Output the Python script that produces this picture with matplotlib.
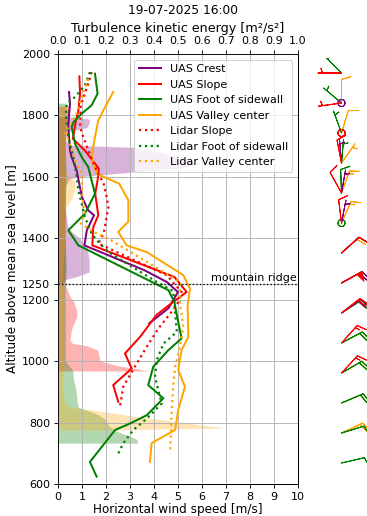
import numpy as np
import matplotlib
matplotlib.use('Agg')
import matplotlib.pyplot as plt

nan = np.nan

# UAS horizontal wind speed profiles [m/s] vs altitude [m]
crest_alt = [1876, 1838, 1806, 1762, 1686, 1664, 1621, 1580, 1534, 1491, 1475, 1426, 1377, 1296, 1258, 1225, 1172, 1123]
crest_spd = [0.46, 0.50, 0.46, 0.43, 0.50, 0.57, 0.78, 0.88, 1.00, 1.26, 1.50, 1.20, 1.10, 3.60, 4.53, 5.00, 4.60, 3.80]

slope_alt = [1927, 1871, 1816, 1784, 1724, 1686, 1627, 1589, 1545, 1475, 1437, 1377, 1274, 1225, 1193, 1150, 1122, 1079, 1025, 976, 922, 868]
slope_spd = [0.89, 0.92, 0.85, 0.75, 0.62, 1.12, 1.70, 1.65, 1.55, 1.68, 1.47, 1.43, 4.85, 5.36, 4.80, 4.10, 3.83, 3.42, 2.79, 3.07, 2.30, 2.51]

foot_alt = [1936, 1871, 1833, 1806, 1778, 1762, 1708, 1664, 1632, 1567, 1545, 1480, 1426, 1377, 1231, 1193, 1150, 1074, 1036, 982, 922, 879, 824, 797, 776, 672, 624]
foot_spd = [1.54, 1.65, 1.40, 0.99, 0.64, 0.57, 0.71, 0.99, 1.26, 1.47, 1.54, 1.12, 0.43, 0.85, 4.60, 4.85, 4.95, 5.15, 4.60, 3.97, 3.76, 4.39, 3.70, 3.00, 2.38, 1.33, 1.61]

valley_alt = [1876, 1827, 1784, 1730, 1664, 1610, 1578, 1524, 1454, 1432, 1421, 1377, 1355, 1280, 1236, 1182, 1079, 1036, 971, 917, 841, 776, 733, 672]
valley_spd = [2.30, 1.96, 1.68, 1.54, 1.40, 1.61, 2.55, 2.93, 2.93, 2.65, 2.51, 2.86, 3.70, 5.22, 5.50, 5.40, 5.43, 5.15, 5.01, 5.29, 5.01, 4.88, 3.90, 3.83]

# Lidar profiles
lslope_alt = [1941, 1903, 1833, 1762, 1730, 1680, 1632, 1578, 1534, 1502, 1415, 1383, 1280, 1225, 1182, 1106, 1047, 982, 917, 852]
lslope_spd = [1.40, 1.26, 0.95, 0.92, 1.05, 1.30, 1.54, 1.90, 2.03, 2.10, 1.90, 1.68, 4.53, 5.15, 4.95, 4.18, 3.70, 3.20, 2.72, 2.58]

lfoot_alt = [1941, 1898, 1860, 1838, 1800, 1730, 1664, 1600, 1556, 1534, 1469, 1415, 1388, 1355, 1258, 1228, 1190, 1140, 1095, 1057, 1003, 949, 862, 813, 776, 733, 689]
lfoot_spd = [1.33, 1.12, 0.71, 0.36, 0.33, 0.43, 0.64, 0.78, 0.85, 0.92, 1.12, 1.40, 1.68, 2.10, 4.11, 4.80, 4.85, 4.90, 4.95, 4.39, 4.11, 4.04, 4.32, 3.70, 3.14, 2.72, 2.45]

lvalley_alt = [1919, 1860, 1800, 1746, 1719, 1654, 1610, 1540, 1480, 1448, 1420, 1399, 1258, 1188, 1112, 1047, 982, 917, 841, 700]
lvalley_spd = [1.26, 0.99, 0.75, 0.30, 0.43, 0.71, 0.99, 1.00, 1.12, 0.95, 1.50, 2.10, 5.08, 5.08, 5.22, 5.08, 4.88, 4.80, 4.74, 4.67]

# UAS turbulence kinetic energy [m2/s2]
crest_tke_alt = [1795, 1788, 1775, 1760, 1748, 1720, 1703, 1696, 1680, 1660, 1642, 1628, 1615, 1603, 1595, 1570, 1500, 1440, 1426, 1400, 1370, 1330, 1290, 1276, 1265, 1250]
crest_tke = [0.05, 0.13, 0.13, 0.12, 0.04, 0.03, 0.05, 0.32, 0.42, 0.52, 0.58, 0.50, 0.30, 0.12, 0.05, 0.03, 0.03, 0.04, 0.05, 0.09, 0.12, 0.13, 0.13, 0.08, 0.03, 0.02]

slope_tke_alt = [1830, 1810, 1790, 1760, 1700, 1600, 1500, 1400, 1300, 1250, 1230, 1210, 1195, 1165, 1145, 1120, 1100, 1068, 1058, 1050, 1036, 1020, 1000, 985, 975, 968]
slope_tke = [0.05, 0.05, 0.04, 0.03, 0.03, 0.03, 0.03, 0.03, 0.03, 0.03, 0.04, 0.05, 0.065, 0.078, 0.078, 0.065, 0.055, 0.05, 0.06, 0.12, 0.165, 0.17, 0.175, 0.25, 0.33, 0.38]

foot_tke_alt = [1840, 1800, 1700, 1600, 1500, 1400, 1300, 1250, 1200, 1100, 1000, 972, 940, 906, 870, 850, 840, 825, 808, 790, 770, 755, 745, 733]
foot_tke = [0.03, 0.035, 0.03, 0.035, 0.03, 0.03, 0.035, 0.03, 0.03, 0.03, 0.03, 0.06, 0.065, 0.075, 0.08, 0.085, 0.12, 0.17, 0.20, 0.21, 0.25, 0.30, 0.33, 0.33]

valley_tke_alt = [1830, 1800, 1700, 1620, 1600, 1585, 1560, 1530, 1510, 1490, 1400, 1300, 1200, 1100, 1000, 900, 860, 848, 840, 825, 810, 795, 782, 778, 776]
valley_tke = [0.04, 0.04, 0.03, 0.03, 0.05, 0.07, 0.07, 0.06, 0.04, 0.03, 0.03, 0.02, 0.02, 0.02, 0.02, 0.02, 0.03, 0.06, 0.15, 0.28, 0.42, 0.57, 0.70, 0.35, 0.26]

# wind barbs (speed m/s, direction deg from)
barb_alt = [1950, 1850, 1750, 1650, 1550, 1450, 1350, 1250, 1150, 1050, 950, 850, 750, 650]
crest_bspd = [nan, 0.4, 0.4, 0.8, 0.9, 1.3, 1.8, 4.4, 4.2, nan, nan, nan, nan, nan]
crest_bdir = [nan, 0, 0, 355, 10, 11, 48, 61, 55, nan, nan, nan, nan, nan]
slope_bspd = [1.0, 0.9, 0.4, 1.6, 1.6, 1.5, 2.0, 5.0, 4.1, 3.2, 2.8, nan, nan, nan]
slope_bdir = [270, 262, 0, 349, 331, 353, 48, 61, 52, 42, 43, nan, nan, nan]
foot_bspd = [1.5, 1.4, 0.6, 1.2, 1.5, 0.4, 1.5, 4.3, 4.4, 4.4, 3.9, 3.9, 2.2, 1.6]
foot_bdir = [315, 310, 340, 5, 358, 0, 48, 61, 57, 62, 60, 67, 73, 77]
valley_bspd = [nan, 2.0, 1.5, 1.4, 2.7, 2.9, 3.6, 4.4, 4.4, 4.4, 4.3, 4.3, 4.2, nan]
valley_bdir = [nan, 0, 17, 35, 20, 24, 48, 61, 57, 62, 60, 67, 65, nan]

W, H = 367, 516
fig = plt.figure(figsize=(W / 80, H / 80), dpi=80)
ax = fig.add_axes([58 / W, 32 / H, 240 / W, 430 / H])
ax2 = ax.twiny()
ax.set_zorder(ax2.get_zorder() + 1)
ax.patch.set_visible(False)

# TKE shading on the top axis
ax2.fill_betweenx(crest_tke_alt, 0, crest_tke, color='purple', alpha=0.3, lw=0)
ax2.fill_betweenx(slope_tke_alt, 0, slope_tke, color='red', alpha=0.3, lw=0)
ax2.fill_betweenx(foot_tke_alt, 0, foot_tke, color='green', alpha=0.3, lw=0)
ax2.fill_betweenx(valley_tke_alt, 0, valley_tke, color='orange', alpha=0.3, lw=0)
ax2.set_xlim(0, 1)
ax2.set_xticks(np.arange(0, 1.01, 0.1))
ax2.set_xticklabels(['%.1f' % t for t in np.arange(0, 1.01, 0.1)])
ax2.set_xlabel('Turbulence kinetic energy [m²/s²]', fontsize=11.5)

# wind speed profiles
ax.plot(crest_spd, crest_alt, color='purple', lw=1.8, label='UAS Crest')
ax.plot(slope_spd, slope_alt, color='red', lw=1.8, label='UAS Slope')
ax.plot(foot_spd, foot_alt, color='green', lw=1.8, label='UAS Foot of sidewall')
ax.plot(valley_spd, valley_alt, color='orange', lw=1.8, label='UAS Valley center')
ax.plot(lslope_spd, lslope_alt, color='red', ls=':', lw=2, label='Lidar Slope')
ax.plot(lfoot_spd, lfoot_alt, color='green', ls=':', lw=2, label='Lidar Foot of sidewall')
ax.plot(lvalley_spd, lvalley_alt, color='orange', ls=':', lw=2, label='Lidar Valley center')

ax.axhline(1250, color='k', ls=':', lw=1.2)
ax.text(9.95, 1254, 'mountain ridge', ha='right', va='bottom', fontsize=10)

ax.set_xlim(0, 10)
ax.set_ylim(600, 2000)
ax.set_xticks(range(11))
ax.set_yticks([600, 800, 1000, 1200, 1250, 1400, 1600, 1800, 2000])
ax.grid(True)
ax.set_xlabel('Horizontal wind speed [m/s]', fontsize=10.8, labelpad=1)
ax.set_ylabel('Altitude above mean sea level [m]', fontsize=10.8)
ax.legend(loc='upper right', fontsize=10)

fig.suptitle('19-07-2025 16:00', y=1 - 11 / H, va='center', fontsize=11)

# barbs panel on the right
bax = fig.add_axes([316 / W, 38 / H, 51 / W, 420 / H])
bax.set_xlim(-1, 1)
bax.set_ylim(600, 2000)
bax.axis('off')
for spd, dr, c in [(valley_bspd, valley_bdir, 'orange'), (foot_bspd, foot_bdir, 'green'),
                   (crest_bspd, crest_bdir, 'purple'), (slope_bspd, slope_bdir, 'red')]:
    spd = np.array(spd)
    dr = np.radians(np.array(dr))
    ok = np.isfinite(spd)
    u = -spd[ok] * np.sin(dr[ok])
    v = -spd[ok] * np.cos(dr[ok])
    y = np.array(barb_alt)[ok]
    bax.barbs(np.zeros(len(y)), y, u, v, color=c, length=6.5, lw=0.9,
              barb_increments=dict(half=1, full=2, flag=5))

fig.savefig('out.png', dpi=80)
